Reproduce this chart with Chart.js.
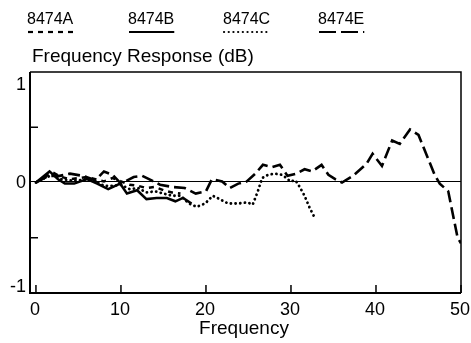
<!DOCTYPE html>
<html>
<head>
<meta charset="utf-8">
<script src="https://cdn.jsdelivr.net/npm/chart.js@4/dist/chart.umd.min.js"></script>
<style>
  html, body { margin: 0; padding: 0; background: #fff; }
  #wrap { width: 471px; height: 343px; }
</style>
</head>
<body>
<div id="wrap"><canvas id="resp" width="471" height="343"></canvas></div>
<script>
// Frequency response of four models
const seriesNames = ["8474A", "8474B", "8474C", "8474E"];

const freqA = [0, 1, 2, 3, 4, 5, 6, 7, 8, 9, 10, 11, 12, 13, 14, 15, 16, 17];
const respA = [0, 0.05, 0.09, 0.05, 0.03, 0.04, 0.05, 0.03, 0.01, 0.04, 0.01, -0.02, -0.03, -0.05, -0.04, -0.07, -0.09, -0.1];

const freqB = [0, 1.6, 2.6, 3.4, 4.5, 6, 7.2, 8.5, 9.9, 10.7, 11.9, 13, 14.2, 15.4, 16.4, 17.3, 18.3];
const respB = [0, 0.1, 0.03, -0.01, -0.01, 0.03, -0.01, -0.06, -0.01, -0.1, -0.07, -0.15, -0.14, -0.14, -0.17, -0.14, -0.19];

const freqC = [0, 1, 2, 3, 4, 5, 6, 7, 8, 9, 10, 11, 12, 13, 14, 15, 16, 17, 18, 18.9, 19.9, 20.8, 21.6, 22.6, 23.8, 24.9, 25.5, 26.1, 26.6, 27.3, 28.1, 28.9, 29.5, 29.9, 30.5, 30.8, 31.6, 32.2, 32.8];
const respC = [0, 0.04, 0.07, 0.03, 0.02, 0.02, 0.03, 0.01, -0.03, -0.03, -0.02, -0.06, -0.05, -0.09, -0.08, -0.1, -0.12, -0.12, -0.19, -0.22, -0.19, -0.12, -0.15, -0.19, -0.19, -0.18, -0.2, -0.08, 0.04, 0.07, 0.08, 0.07, 0.04, 0.01, 0.02, -0.01, -0.12, -0.23, -0.32];

const freqE = [0, 1.5, 2.8, 4, 5.5, 7, 8, 9, 10, 11.5, 12.5, 13.3, 14.6, 16, 17.5, 18.8, 20, 20.7, 21.9, 22.8, 23.8, 24.8, 25.8, 26.7, 27.8, 28.7, 29.6, 30.6, 31.6, 32.5, 33.6, 34.4, 35.2, 36, 37.3, 38.9, 39.6, 40.7, 41.9, 42.8, 44, 45, 46.9, 47.5, 48.5, 49.6, 50];
const respE = [0, 0.06, 0.06, 0.08, 0.06, 0.02, 0.1, 0.07, -0.01, 0.05, 0.06, 0.03, -0.02, -0.04, -0.05, -0.1, -0.08, 0.03, 0.01, -0.05, -0.01, 0.01, 0.08, 0.16, 0.14, 0.16, 0.06, 0.08, 0.12, 0.1, 0.16, 0.07, 0.03, 0, 0.06, 0.17, 0.26, 0.15, 0.38, 0.35, 0.48, 0.43, 0.07, -0.01, -0.08, -0.5, -0.55];

const xTicks = [0, 10, 20, 30, 40, 50];
const yTicks = [-1, -0.5, 0, 0.5, 1];
const yLabels = [-1, 0, 1];

const FONT = '"Liberation Sans", Arial, sans-serif';
const dashA = [5, 5];
const dashC = [0.1, 4.6];
const dashE = [12, 5];

function pts(xs, ys) {
  return xs.map((x, i) => ({ x, y: ys[i] }));
}

const frame = {
  id: "frame",
  beforeDatasetsDraw(chart) {
    const { ctx, chartArea: a, scales: { y } } = chart;
    const y0 = Math.round(y.getPixelForValue(0)) - 1.5;
    ctx.save();
    ctx.strokeStyle = "#000";
    ctx.lineWidth = 1;
    ctx.beginPath();
    ctx.moveTo(a.left, y0);
    ctx.lineTo(a.right, y0);
    ctx.stroke();
    ctx.restore();
  },
  afterDraw(chart) {
    const { ctx, chartArea: a, scales: { x, y } } = chart;
    ctx.save();
    ctx.strokeStyle = "#000";
    ctx.fillStyle = "#000";

    // box
    ctx.lineWidth = 2;
    ctx.beginPath();
    ctx.moveTo(a.left, a.top);
    ctx.lineTo(a.left, a.bottom);
    ctx.lineTo(a.right, a.bottom);
    ctx.stroke();
    ctx.lineWidth = 1.5;
    ctx.beginPath();
    ctx.moveTo(a.left, a.top);
    ctx.lineTo(a.right, a.top);
    ctx.lineTo(a.right, a.bottom);
    ctx.stroke();

    // inward ticks
    ctx.lineWidth = 1.5;
    xTicks.forEach((v) => {
      const px = x.getPixelForValue(v);
      ctx.beginPath();
      ctx.moveTo(px, a.bottom);
      ctx.lineTo(px, a.bottom - 8);
      ctx.stroke();
    });
    yTicks.filter((v) => v !== 0 && Math.abs(v) !== 1).forEach((v) => {
      const py = y.getPixelForValue(v);
      ctx.beginPath();
      ctx.moveTo(a.left, py);
      ctx.lineTo(a.left + 8, py);
      ctx.stroke();
    });

    // tick labels
    ctx.font = "18px " + FONT;
    ctx.textAlign = "center";
    ctx.textBaseline = "top";
    xTicks.forEach((v) => {
      ctx.fillText(String(v), x.getPixelForValue(v) - 1, a.bottom + 8);
    });
    ctx.textAlign = "right";
    yLabels.forEach((v) => {
      const py = y.getPixelForValue(v);
      if (v === 1) { ctx.textBaseline = "top"; ctx.fillText(String(v), 26, py + 4); }
      else if (v === -1) { ctx.textBaseline = "bottom"; ctx.fillText(String(v), 26, py + 3); }
      else { ctx.textBaseline = "middle"; ctx.fillText(String(v), 26, py + 1); }
    });

    // axis titles
    ctx.font = "19px " + FONT;
    ctx.textAlign = "center";
    ctx.textBaseline = "alphabetic";
    ctx.fillText("Frequency", 244, 334);
    ctx.textAlign = "left";
    ctx.fillText("Frequency Response (dB)", 32, 62);

    // legend row
    const legendX = [27, 128, 223, 318];
    ctx.font = "16px " + FONT;
    ctx.textBaseline = "alphabetic";
    chart.data.datasets.forEach((ds, i) => {
      const w = ctx.measureText(ds.label).width;
      ctx.fillText(ds.label, legendX[i], 24);
      ctx.save();
      ctx.lineWidth = 2.2;
      ctx.lineCap = ds.borderCapStyle || "butt";
      ctx.setLineDash(i === 3 ? [17, 5] : (ds.borderDash || []));
      ctx.beginPath();
      ctx.moveTo(legendX[i] + 1, 32);
      ctx.lineTo(legendX[i] + w, 32);
      ctx.stroke();
      ctx.restore();
    });
    ctx.restore();
  }
};

new Chart(document.getElementById("resp"), {
  type: "line",
  data: {
    datasets: [
      { label: seriesNames[0], data: pts(freqA, respA), borderDash: dashA, borderWidth: 2.5 },
      { label: seriesNames[1], data: pts(freqB, respB), borderWidth: 2.5 },
      { label: seriesNames[2], data: pts(freqC, respC), borderDash: dashC, borderCapStyle: "round", borderWidth: 2.8 },
      { label: seriesNames[3], data: pts(freqE, respE), borderDash: dashE, borderWidth: 2.6 },
    ].map((d) => ({ borderColor: "#000", pointRadius: 0, tension: 0, fill: false, ...d })),
  },
  options: {
    responsive: false,
    animation: false,
    layout: { padding: { left: 30, right: 10, top: 72, bottom: 50 } },
    plugins: { legend: { display: false }, tooltip: { enabled: false } },
    scales: {
      x: { type: "linear", min: -0.7, max: 50, display: false },
      y: { type: "linear", min: -1, max: 1, display: false },
    },
  },
  plugins: [frame],
});
</script>
</body>
</html>
